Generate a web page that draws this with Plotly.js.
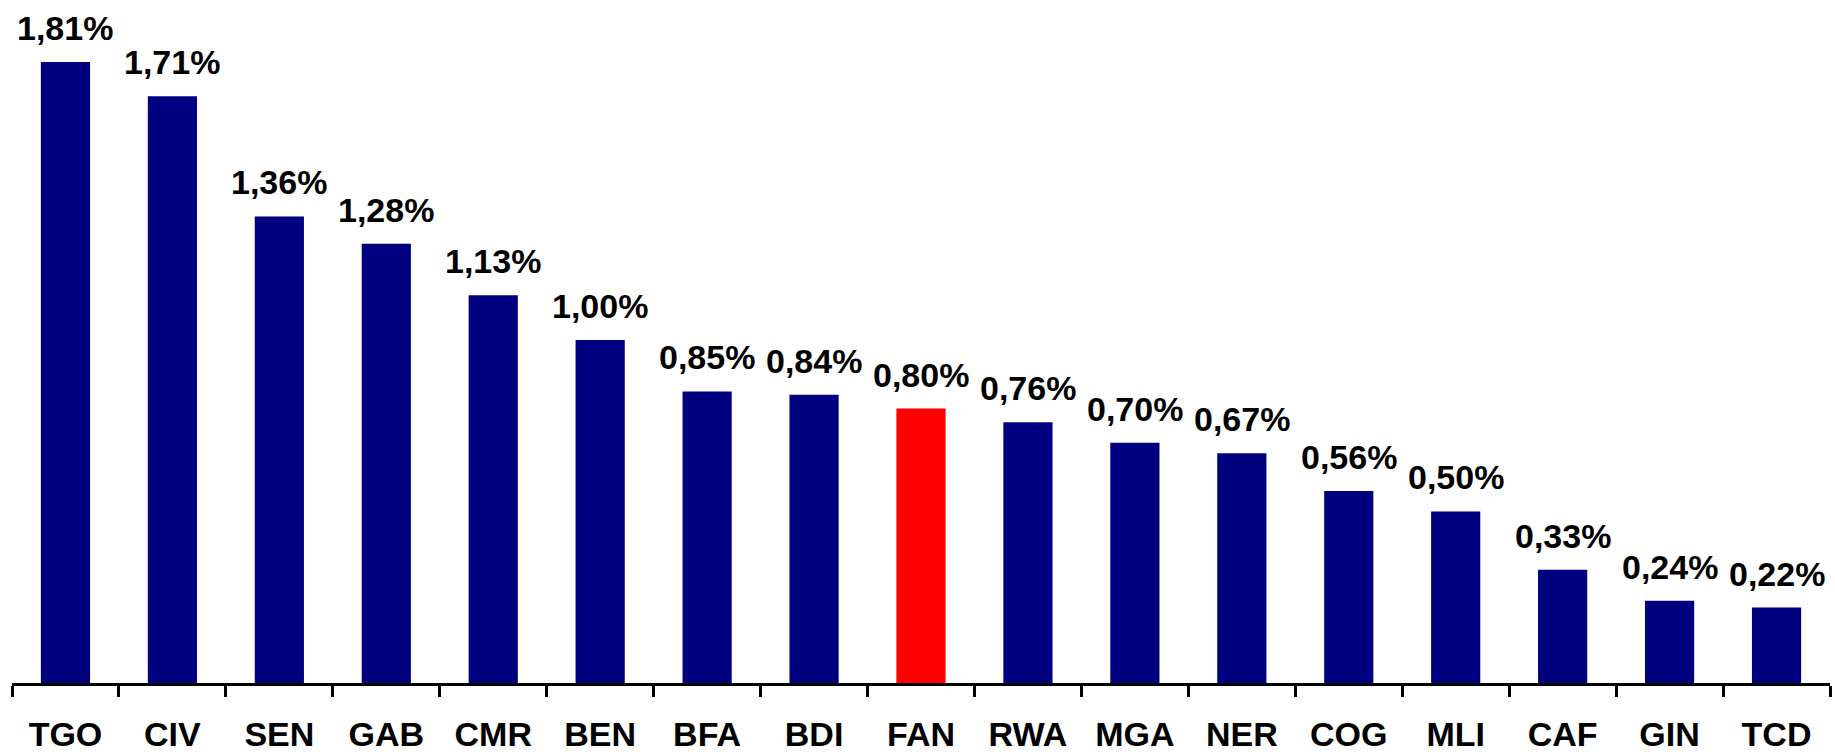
<!DOCTYPE html>
<html>
<head>
<meta charset="utf-8">
<script src="https://cdn.plot.ly/plotly-3.0.1.min.js"></script>
<style>
  html, body { margin: 0; padding: 0; background: #fff; }
  #chart { width: 1835px; height: 755px; }
</style>
</head>
<body>
<div id="chart"></div>
<script>
var countries = ['TGO', 'CIV', 'SEN', 'GAB', 'CMR', 'BEN', 'BFA', 'BDI', 'FAN',
                 'RWA', 'MGA', 'NER', 'COG', 'MLI', 'CAF', 'GIN', 'TCD'];
var rates = [1.81, 1.71, 1.36, 1.28, 1.13, 1.00, 0.85, 0.84, 0.80,
             0.76, 0.70, 0.67, 0.56, 0.50, 0.33, 0.24, 0.22];
var highlight = 'FAN';

var navy = '#000080';
var red = '#ff0000';

var colors = countries.map(function (c) { return c === highlight ? red : navy; });

function fmt(v) {
    return v.toFixed(2).replace('.', ',') + '%';
}

var labels = countries.map(function (c, i) {
    return {
        x: c,
        y: rates[i],
        text: fmt(rates[i]),
        showarrow: false,
        yanchor: 'bottom',
        yshift: 13,
        font: {family: 'Liberation Sans, Arial, sans-serif', size: 34, color: '#000', weight: 'bold'}
    };
});

var data = [{
    type: 'bar',
    x: countries,
    y: rates,
    marker: {color: colors, line: {width: 0}},
    hoverinfo: 'skip'
}];

var layout = {
    width: 1835,
    height: 755,
    margin: {l: 12, r: 5, t: 14, b: 72},
    paper_bgcolor: '#fff',
    plot_bgcolor: '#fff',
    bargap: 0.54,
    showlegend: false,
    xaxis: {
        type: 'category',
        tickson: 'boundaries',
        ticks: 'outside',
        ticklen: 11,
        tickwidth: 3,
        tickcolor: '#000',
        ticklabelstandoff: 19,
        showline: true,
        linecolor: '#000',
        linewidth: 3,
        layer: 'above traces',
        showgrid: false,
        zeroline: false,
        tickfont: {family: 'Liberation Sans, Arial, sans-serif', size: 34, color: '#000', weight: 'bold'}
    },
    yaxis: {
        range: [0, 1.95],
        visible: false,
        showgrid: false,
        zeroline: false
    },
    annotations: labels
};

Plotly.newPlot('chart', data, layout, {displayModeBar: false, staticPlot: true});
</script>
</body>
</html>
